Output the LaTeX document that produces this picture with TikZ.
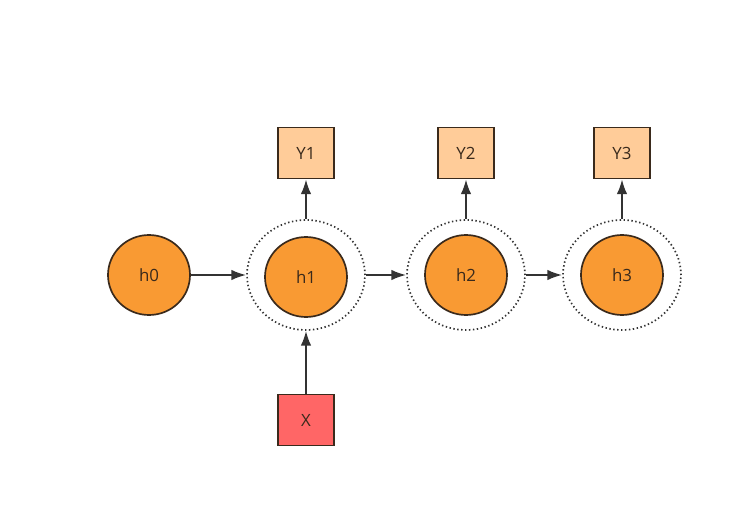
\documentclass[tikz,border=0pt]{standalone}
\usepackage{fontspec}
\setmainfont{Open Sans}
\usepackage{xcolor}
\usetikzlibrary{shapes.geometric, arrows.meta, positioning, calc}

\definecolor{hidorange}{HTML}{F99A33}
\definecolor{outpeach}{HTML}{FFCC99}
\definecolor{inred}{HTML}{FF6666}
\definecolor{edgebrown}{HTML}{3A2A1C}
\definecolor{arrowgray}{HTML}{333333}

\begin{document}
\begin{tikzpicture}[
    hstate/.style={ellipse, draw=edgebrown, line width=1.2pt, fill=hidorange, minimum width=2.05cm, minimum height=2cm, inner sep=0pt, font=\fontsize{12}{14}\selectfont, text=edgebrown},
    cell/.style={ellipse, draw=arrowgray, line width=1.2pt, dash pattern=on 1pt off 1.8pt, minimum width=2.95cm, minimum height=2.75cm, inner sep=0pt},
    outbox/.style={rectangle, draw=edgebrown, line width=1.2pt, fill=outpeach, minimum width=1.4cm, minimum height=1.275cm, inner sep=0pt, font=\fontsize{12}{14}\selectfont, text=edgebrown},
    inbox/.style={outbox, fill=inred},
    arrow/.style={-{Latex[length=10.5pt, width=7.5pt]}, line width=1.4pt, draw=arrowgray}
]
    \useasboundingbox (0, 0) rectangle (18.55, -12.7);

    % Hidden states
    \node [hstate] (h0) at (3.725, -6.875) {h0};
    \node [hstate] (h1) at (7.65, -6.925) {h1};
    \node [hstate] (h2) at (11.65, -6.875) {h2};
    \node [hstate] (h3) at (15.55, -6.875) {h3};

    % Dotted cells round the states
    \node [cell] (c1) at (7.65, -6.875) {};
    \node [cell] (c2) at (11.65, -6.875) {};
    \node [cell] (c3) at (15.55, -6.875) {};

    % Outputs
    \node [outbox] (Y1) at (7.65, -3.825) {Y1};
    \node [outbox] (Y2) at (11.65, -3.825) {Y2};
    \node [outbox] (Y3) at (15.55, -3.825) {Y3};

    % Input
    \node [inbox] (X) at (7.65, -10.5) {X};

    % Recurrence
    \draw [arrow] (h0.east) -- (c1.west);
    \draw [arrow] (c1.east) -- (c2.west);
    \draw [arrow] (c2.east) -- (c3.west);

    % Outputs and input
    \draw [arrow] (c1.north) -- (Y1.south);
    \draw [arrow] (c2.north) -- (Y2.south);
    \draw [arrow] (c3.north) -- (Y3.south);
    \draw [arrow] (X.north) -- (c1.south);

\end{tikzpicture}
\end{document}
